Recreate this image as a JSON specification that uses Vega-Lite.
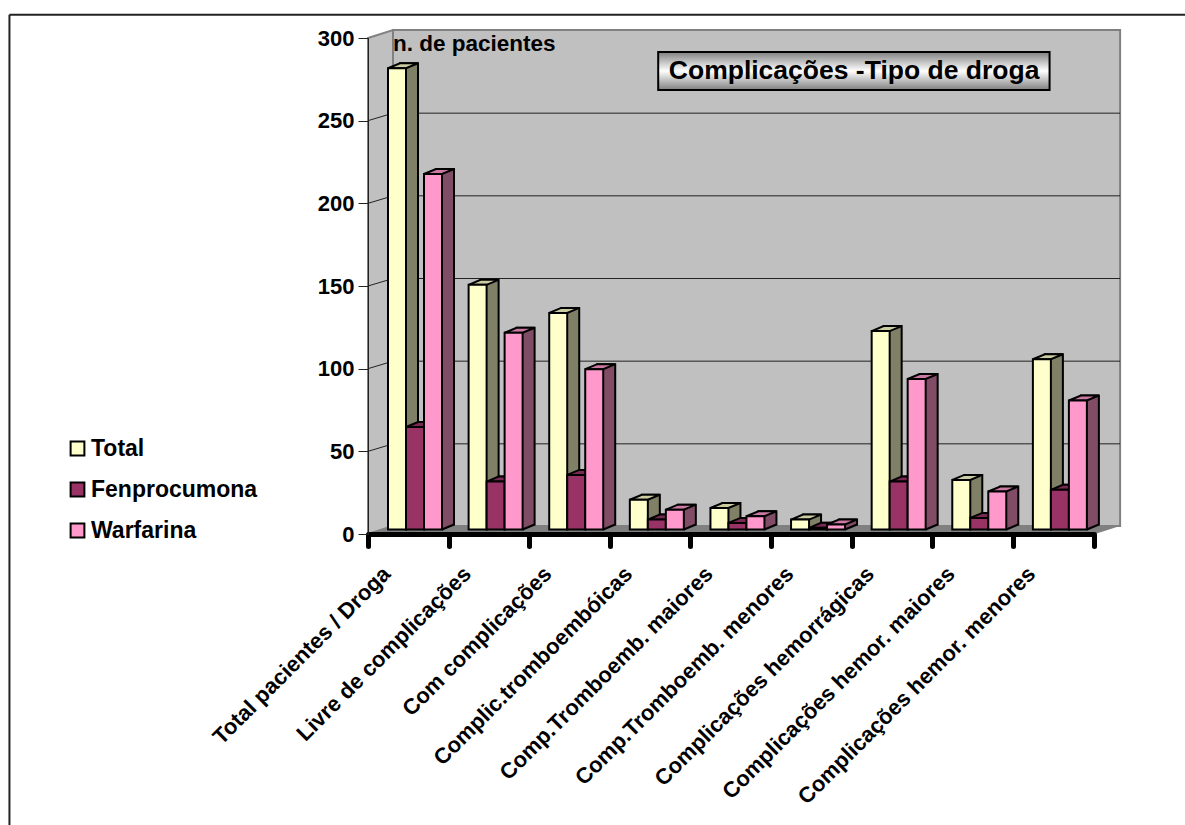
{
  "$schema": "https://vega.github.io/schema/vega-lite/v6.json",
  "autosize": {"type": "none"},
  "padding": {"left": 368, "top": 38, "right": 91.5, "bottom": 291},
  "width": 725.5,
  "height": 496,
  "background": "white",
  "config": {"view": {"stroke": null}, "font": "Liberation Sans"},
  "datasets": {
    "pacientes": [
      {"categoria": "Total pacientes / Droga", "serie": "Total", "valor": 279},
      {"categoria": "Total pacientes / Droga", "serie": "Fenprocumona", "valor": 62},
      {"categoria": "Total pacientes / Droga", "serie": "Warfarina", "valor": 215},
      {"categoria": "Livre de complicações", "serie": "Total", "valor": 148},
      {"categoria": "Livre de complicações", "serie": "Fenprocumona", "valor": 29},
      {"categoria": "Livre de complicações", "serie": "Warfarina", "valor": 119},
      {"categoria": "Com complicações", "serie": "Total", "valor": 131},
      {"categoria": "Com complicações", "serie": "Fenprocumona", "valor": 33},
      {"categoria": "Com complicações", "serie": "Warfarina", "valor": 97},
      {"categoria": "Complic.tromboembóicas", "serie": "Total", "valor": 18},
      {"categoria": "Complic.tromboembóicas", "serie": "Fenprocumona", "valor": 6},
      {"categoria": "Complic.tromboembóicas", "serie": "Warfarina", "valor": 12},
      {"categoria": "Comp.Tromboemb. maiores", "serie": "Total", "valor": 13},
      {"categoria": "Comp.Tromboemb. maiores", "serie": "Fenprocumona", "valor": 4},
      {"categoria": "Comp.Tromboemb. maiores", "serie": "Warfarina", "valor": 8},
      {"categoria": "Comp.Tromboemb. menores", "serie": "Total", "valor": 6},
      {"categoria": "Comp.Tromboemb. menores", "serie": "Fenprocumona", "valor": 1},
      {"categoria": "Comp.Tromboemb. menores", "serie": "Warfarina", "valor": 3},
      {"categoria": "Complicações hemorrágicas", "serie": "Total", "valor": 120},
      {"categoria": "Complicações hemorrágicas", "serie": "Fenprocumona", "valor": 29},
      {"categoria": "Complicações hemorrágicas", "serie": "Warfarina", "valor": 91},
      {"categoria": "Complicações hemor. maiores", "serie": "Total", "valor": 30},
      {"categoria": "Complicações hemor. maiores", "serie": "Fenprocumona", "valor": 7},
      {"categoria": "Complicações hemor. maiores", "serie": "Warfarina", "valor": 23},
      {"categoria": "Complicações hemor. menores", "serie": "Total", "valor": 103},
      {"categoria": "Complicações hemor. menores", "serie": "Fenprocumona", "valor": 24},
      {"categoria": "Complicações hemor. menores", "serie": "Warfarina", "valor": 78}
    ],
    "grade": [{"nivel": 50}, {"nivel": 100}, {"nivel": 150}, {"nivel": 200}, {"nivel": 250}],
    "unico": [{"n": 1}]
  },
  "data": {"name": "pacientes"},
  "resolve": {
    "scale": {"x": "independent", "xOffset": "independent", "color": "independent"},
    "axis": {"y": "independent"}
  },
  "layer": [
    {
      "data": {"name": "unico"},
      "mark": {"type": "rule", "stroke": "#222222", "strokeWidth": 2},
      "encoding": {
        "x": {"datum": -4.448, "type": "quantitative", "scale": {"domain": [0, 9], "nice": false}, "axis": null},
        "x2": {"datum": 10.2},
        "y": {"datum": 314.1, "type": "quantitative", "axis": null}
      }
    },
    {
      "data": {"name": "unico"},
      "mark": {"type": "rule", "stroke": "#222222", "strokeWidth": 2},
      "encoding": {
        "x": {"datum": -4.448, "type": "quantitative", "scale": {"domain": [0, 9], "nice": false}, "axis": null},
        "y": {"datum": 314.1, "type": "quantitative", "axis": null},
        "y2": {"datum": -176}
      }
    },
    {
      "data": {"name": "unico"},
      "mark": {"type": "rect", "fill": "#C0C0C0", "stroke": "#808080", "strokeWidth": 2},
      "encoding": {
        "x": {"datum": 0.31, "type": "quantitative", "scale": {"domain": [0, 9], "nice": false}, "axis": null},
        "x2": {"datum": 9.33},
        "y": {"datum": 304.9, "type": "quantitative", "axis": null},
        "y2": {"datum": 4.84}
      }
    },
    {
      "data": {"name": "unico"},
      "mark": {"type": "point", "shape": "M0,0L25,-8L25,-504L0,-496Z", "size": 4, "filled": true, "opacity": 1, "fill": "#C0C0C0", "stroke": "#808080", "strokeWidth": 2},
      "encoding": {
        "x": {"datum": 0, "type": "quantitative", "scale": {"domain": [0, 9], "nice": false}, "axis": null},
        "y": {"datum": 0, "type": "quantitative", "axis": null}
      }
    },
    {
      "data": {"name": "unico"},
      "mark": {"type": "point", "shape": "M0,0L25,-8L752,-8L727,0Z", "size": 4, "filled": true, "opacity": 1, "fill": "#808080", "strokeWidth": 0},
      "encoding": {
        "x": {"datum": 0, "type": "quantitative", "scale": {"domain": [0, 9], "nice": false}, "axis": null},
        "y": {"datum": 0, "type": "quantitative", "axis": null}
      }
    },
    {
      "data": {"name": "grade"},
      "mark": {"type": "rule", "stroke": "#222222", "strokeWidth": 1, "yOffset": -7.5, "y2Offset": -7.5},
      "encoding": {
        "x": {"datum": 0.31, "type": "quantitative", "scale": {"domain": [0, 9], "nice": false}, "axis": null},
        "x2": {"datum": 9.33},
        "y": {"field": "nivel", "type": "quantitative", "axis": null}
      }
    },
    {
      "data": {"name": "grade"},
      "mark": {"type": "point", "shape": "M0,0L25,-7.5", "size": 4, "filled": false, "opacity": 1, "stroke": "#222222", "strokeWidth": 1},
      "encoding": {
        "x": {"datum": 0, "type": "quantitative", "scale": {"domain": [0, 9], "nice": false}, "axis": null},
        "y": {"field": "nivel", "type": "quantitative", "axis": null}
      }
    },
    {
      "mark": {"type": "bar", "stroke": "black", "strokeWidth": 2, "yOffset": -9.5, "y2Offset": -9.5},
      "encoding": {
        "x": {"field": "categoria", "type": "nominal", "sort": null, "scale": {"type": "band", "paddingInner": 0, "paddingOuter": 0}, "axis": null},
        "xOffset": {"field": "serie", "type": "nominal", "sort": ["Total", "Fenprocumona", "Warfarina"], "scale": {"type": "band", "range": [32, 86], "paddingInner": 0, "paddingOuter": 0}},
        "y": {"field": "valor", "type": "quantitative", "axis": null},
        "color": {"field": "serie", "type": "nominal", "legend": null, "scale": {"domain": ["Total", "Fenprocumona", "Warfarina"], "range": ["#808066", "#4D1933", "#804C66"]}}
      }
    },
    {
      "mark": {"type": "point", "shape": "M9,0L20,-4.6L20,-7L9,-7Z", "size": 4, "filled": true, "opacity": 1, "strokeWidth": 0, "yOffset": -4.5},
      "encoding": {
        "x": {"field": "categoria", "type": "nominal", "sort": null, "scale": {"type": "band", "paddingInner": 0, "paddingOuter": 0}, "axis": null},
        "xOffset": {"field": "serie", "type": "nominal", "sort": ["Total", "Fenprocumona", "Warfarina"], "scale": {"type": "band", "range": [20, 74], "paddingInner": 0, "paddingOuter": 0}},
        "y": {"datum": 0, "type": "quantitative", "axis": null},
        "color": {"field": "serie", "type": "nominal", "legend": null, "scale": {"domain": ["Total", "Fenprocumona", "Warfarina"], "range": ["#808066", "#4D1933", "#804C66"]}}
      }
    },
    {
      "mark": {"type": "point", "shape": "M9,0L21,-5", "size": 4, "filled": false, "opacity": 1, "stroke": "black", "strokeWidth": 2, "yOffset": -4.5},
      "encoding": {
        "x": {"field": "categoria", "type": "nominal", "sort": null, "scale": {"type": "band", "paddingInner": 0, "paddingOuter": 0}, "axis": null},
        "xOffset": {"field": "serie", "type": "nominal", "sort": ["Total", "Fenprocumona", "Warfarina"], "scale": {"type": "band", "range": [20, 74], "paddingInner": 0, "paddingOuter": 0}},
        "y": {"datum": 0, "type": "quantitative", "axis": null}
      }
    },
    {
      "mark": {"type": "point", "shape": "M-9,0L3,-5L21,-5L9,0Z", "size": 4, "filled": true, "opacity": 1, "stroke": "black", "strokeWidth": 2, "yOffset": -4.5},
      "encoding": {
        "x": {"field": "categoria", "type": "nominal", "sort": null, "scale": {"type": "band", "paddingInner": 0, "paddingOuter": 0}, "axis": null},
        "xOffset": {"field": "serie", "type": "nominal", "sort": ["Total", "Fenprocumona", "Warfarina"], "scale": {"type": "band", "range": [20, 74], "paddingInner": 0, "paddingOuter": 0}},
        "y": {"field": "valor", "type": "quantitative", "axis": null},
        "color": {"field": "serie", "type": "nominal", "legend": null, "scale": {"domain": ["Total", "Fenprocumona", "Warfarina"], "range": ["#CCCCA3", "#7A2952", "#CC7AA3"]}}
      }
    },
    {
      "mark": {"type": "bar", "stroke": "black", "strokeWidth": 2, "yOffset": -4.5, "y2Offset": -4.5},
      "encoding": {
        "x": {
          "field": "categoria", "type": "nominal", "sort": null, "title": null,
          "scale": {"type": "band", "paddingInner": 0, "paddingOuter": 0},
          "axis": {
            "orient": "bottom", "zindex": 1, "domainColor": "black", "domainWidth": 5,
            "tickColor": "black", "tickWidth": 5, "tickSize": 12, "tickCap": "round", "tickBand": "extent",
            "labelAngle": -45, "labelAlign": "right", "labelBaseline": "middle", "labelFont": "Liberation Sans",
            "labelFontWeight": "bold", "labelFontSize": 22, "labelColor": "black", "labelPadding": 24, "labelOffset": -22,
            "labelLimit": 400, "labelOverlap": false
          }
        },
        "xOffset": {"field": "serie", "type": "nominal", "sort": ["Total", "Fenprocumona", "Warfarina"], "scale": {"type": "band", "range": [20, 74], "paddingInner": 0, "paddingOuter": 0}},
        "y": {
          "field": "valor", "type": "quantitative", "title": null,
          "scale": {"domain": [0, 300], "nice": false},
          "axis": {
            "orient": "left", "zindex": 1, "values": [0, 50, 100, 150, 200, 250, 300], "grid": false,
            "domainColor": "#222222", "domainWidth": 1, "tickColor": "#222222", "tickWidth": 1, "tickSize": 10,
            "labelFont": "Liberation Sans", "labelFontWeight": "bold", "labelFontSize": 22, "labelColor": "black", "labelPadding": 4
          }
        },
        "color": {
          "field": "serie", "type": "nominal",
          "scale": {"domain": ["Total", "Fenprocumona", "Warfarina"], "range": ["#FFFFCC", "#993366", "#FF99CC"]},
          "legend": {
            "title": null, "orient": "none", "legendX": -302, "legendY": 399, "symbolType": "square", "symbolSize": 190,
            "symbolStrokeColor": "black", "symbolStrokeWidth": 2, "symbolOpacity": 1, "labelFont": "Liberation Sans", "labelFontWeight": "bold",
            "labelFontSize": 23, "labelColor": "black", "labelOffset": 2, "rowPadding": 17, "labelLimit": 300
          }
        }
      }
    },
    {
      "data": {"name": "unico"},
      "mark": {"type": "text", "text": "n. de pacientes", "font": "Liberation Sans", "fontWeight": "bold", "fontSize": 22.5, "color": "black", "align": "left", "baseline": "middle"},
      "encoding": {
        "x": {"datum": 0.31, "type": "quantitative", "scale": {"domain": [0, 9], "nice": false}, "axis": null},
        "y": {"datum": 296.5, "type": "quantitative", "axis": null}
      }
    },
    {
      "data": {"name": "unico"},
      "mark": {
        "type": "rect", "stroke": "black", "strokeWidth": 2,
        "color": {"gradient": "linear", "x1": 0, "y1": 0, "x2": 0, "y2": 1, "stops": [
          {"offset": 0, "color": "#808080"}, {"offset": 0.5, "color": "#FFFFFF"}, {"offset": 1, "color": "#808080"}
        ]}
      },
      "encoding": {
        "x": {"datum": 3.6, "type": "quantitative", "scale": {"domain": [0, 9], "nice": false}, "axis": null},
        "x2": {"datum": 8.455},
        "y": {"datum": 291.5, "type": "quantitative", "axis": null},
        "y2": {"datum": 268.6}
      }
    },
    {
      "data": {"name": "unico"},
      "mark": {"type": "text", "text": "Complicações -Tipo de droga", "font": "Liberation Sans", "fontWeight": "bold", "fontSize": 26.5, "color": "black", "align": "center", "baseline": "middle"},
      "encoding": {
        "x": {"datum": 6.03, "type": "quantitative", "scale": {"domain": [0, 9], "nice": false}, "axis": null},
        "y": {"datum": 280, "type": "quantitative", "axis": null}
      }
    }
  ]
}
